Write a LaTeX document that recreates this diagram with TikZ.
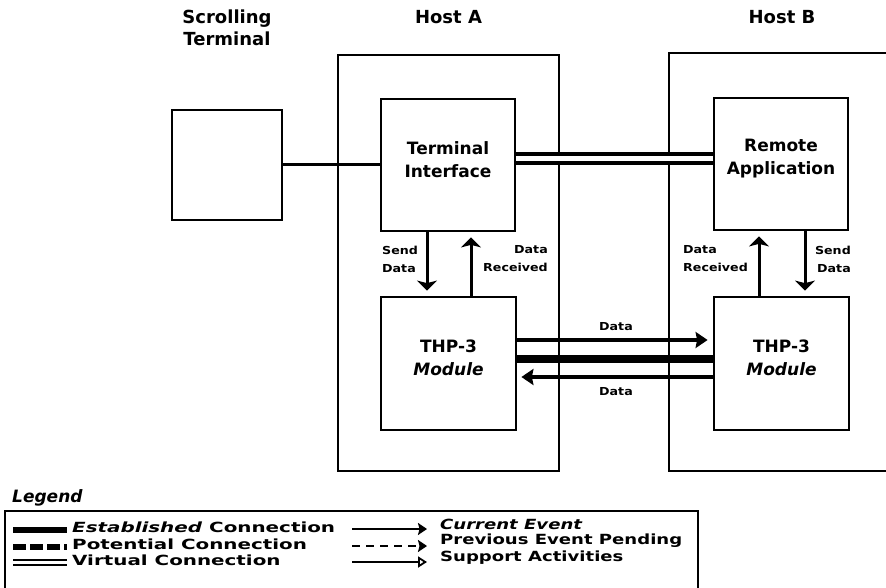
\documentclass[tikz,border=0pt]{standalone}
\usepackage{fontspec}
\setmainfont{DejaVu Sans}
\newfontfamily\lblfont{DejaVu Sans}[FakeStretch=1.15]
\newfontfamily\lgLfont{DejaVu Sans}[FakeStretch=1.42]
\newfontfamily\lgRfont{DejaVu Sans}[FakeStretch=1.29]
\usetikzlibrary{arrows.meta,calc}
\begin{document}
\begin{tikzpicture}[x=1pt,y=-1pt,
  hostbox/.style={draw,line width=2.8pt,inner sep=0pt},
  blockbox/.style={draw,line width=2.8pt,inner sep=0pt},
  btext/.style={align=center,inner sep=0pt,font=\fontsize{17}{23}\selectfont\bfseries},
  ttl/.style={align=center,inner sep=0pt,font=\fontsize{18}{22}\selectfont\bfseries},
  lbl/.style={inner sep=0pt,font=\lblfont\fontsize{11}{18}\selectfont\bfseries},
  conn/.style={line width=3pt},
  virt/.style={line width=3.2pt,double,double distance=5.8pt},
  estab/.style={line width=7.5pt},
  varrow/.style={line width=3pt,-{Stealth[length=10pt,width=20pt,inset=2.5pt]}},
  harrow/.style={line width=3.4pt,-{Stealth[length=12pt,width=16pt,inset=1.5pt]}},
  lgL/.style={anchor=west,inner sep=0pt,font=\lgLfont\fontsize{14}{18}\selectfont\bfseries},
  lgR/.style={anchor=west,inner sep=0pt,font=\lgRfont\fontsize{14}{18}\selectfont\bfseries},
  lgarrow/.style={line width=2.6pt,-{Stealth[length=9pt,width=12pt,inset=1.5pt]}}
]
\clip (0,0) rectangle (886,588);
\path[use as bounding box] (0,0) rectangle (886,588);

% titles
\node[ttl] (tScroll) at (227,28) {Scrolling\\Terminal};
\node[ttl] (tHostA) at (448.5,17) {Host A};
\node[ttl] (tHostB) at (782,17) {Host B};

% host boxes
\node[hostbox,minimum width=221pt,minimum height=416pt] (hostA) at (448.5,263) {};
\node[hostbox,minimum width=235pt,minimum height=418pt] (hostB) at (786.5,262) {};

% blocks
\node[blockbox,minimum width=110pt,minimum height=110pt] (scroll) at (227,165) {};
\node[blockbox,minimum width=134pt,minimum height=132pt] (ti) at (448,165) {};
\node[blockbox,minimum width=134pt,minimum height=132pt] (ra) at (781,164) {};
\node[blockbox,minimum width=135pt,minimum height=133pt] (thpA) at (448.5,363.5) {};
\node[blockbox,minimum width=135pt,minimum height=133pt] (thpB) at (781.5,363.5) {};

\node[btext] (tiT) at ($(ti.center)+(0,-5.5)$) {Terminal\\Interface};
\node[btext] (raT) at ($(ra.center)+(0,-5.5)$) {Remote\\Application};
\node[btext] (thpAT) at ($(thpA.center)+(0,-5.5)$) {THP-3\\\textit{Module}};
\node[btext] (thpBT) at ($(thpB.center)+(0,-5.5)$) {THP-3\\\textit{Module}};

% connections
\draw[conn] (scroll.east) -- (ti.west);
\draw[virt] ($(ti.east)+(0,-6.5)$) -- ($(ra.west)+(0,-5.5)$);

% vertical arrows host A
\draw[varrow,shorten >=5pt] ($(ti.south)+(-21,0)$) -- ($(thpA.north)+(-21.5,0)$);
\draw[varrow,shorten >=5pt] ($(thpA.north)+(22.5,0)$) -- ($(ti.south)+(23,0)$);
% vertical arrows host B
\draw[varrow,shorten >=5pt] ($(thpB.north)+(-22.5,0)$) -- ($(ra.south)+(-22,0)$);
\draw[varrow,shorten >=5pt] ($(ra.south)+(24,0)$) -- ($(thpB.north)+(23.5,0)$);

\node[lbl,anchor=west,align=left] (sdA) at (382,259) {Send\\Data};
\node[lbl,anchor=east,align=right] (drA) at (548,259) {Data\\Received};
\node[lbl,anchor=west,align=left] (drB) at (683,259) {Data\\Received};
\node[lbl,anchor=east,align=right] (sdB) at (851,259) {Send\\Data};

% THP links
\draw[harrow,shorten >=5pt] ($(thpA.east)+(0,-23.5)$) -- ($(thpB.west)+(0,-23.5)$);
\draw[estab] ($(thpA.east)+(0,-4.5)$) -- ($(thpB.west)+(0,-4.5)$);
\draw[harrow,shorten >=4pt] ($(thpB.west)+(0,13.5)$) -- ($(thpA.east)+(0,13.5)$);
\node[lbl] (dTop) at (616,327) {Data};
\node[lbl] (dBot) at (616,392) {Data};

% legend
\node[anchor=west,inner sep=0pt,font=\fontsize{17}{20}\selectfont\bfseries\itshape] (legTitle) at (12,498) {Legend};
\draw[line width=2.6pt] (5,600) -- (5,511) -- (698,511) -- (698,600);

\coordinate (e1) at (13,530); \coordinate (e2) at (67,530);
\coordinate (p1) at (13,547); \coordinate (p2) at (67,547);
\coordinate (v1) at (13,562.5); \coordinate (v2) at (67,562.5);
\draw[line width=6pt] (e1) -- (e2);
\draw[line width=6pt,dash pattern=on 13pt off 4pt] (p1) -- (p2);
\draw[line width=2.6pt,double,double distance=2.4pt] (v1) -- (v2);

\node[lgL] (lgE) at (72,527) {\textit{Established} Connection};
\node[lgL] (lgP) at (72,544) {Potential Connection};
\node[lgL] (lgV) at (72,560) {Virtual Connection};

\coordinate (c1) at (352,529); \coordinate (c2) at (427,529);
\coordinate (q1) at (352,546); \coordinate (q2) at (427,546);
\coordinate (s1) at (352,562); \coordinate (s2) at (427,562);
\draw[lgarrow] (c1) -- (c2);
\draw[lgarrow,dash pattern=on 8pt off 6pt] (q1) -- (q2);
\draw[line width=2.6pt,-{Triangle[open,length=9pt,width=11pt,line width=1.8pt]}] (s1) -- (s2);

\node[lgR] (lgC) at (440,524) {\textit{Current Event}};
\node[lgR] (lgPr) at (440,541) {Previous Event Pending};
\node[lgR] (lgS) at (440,558) {Support Activities};
\end{tikzpicture}
\end{document}
